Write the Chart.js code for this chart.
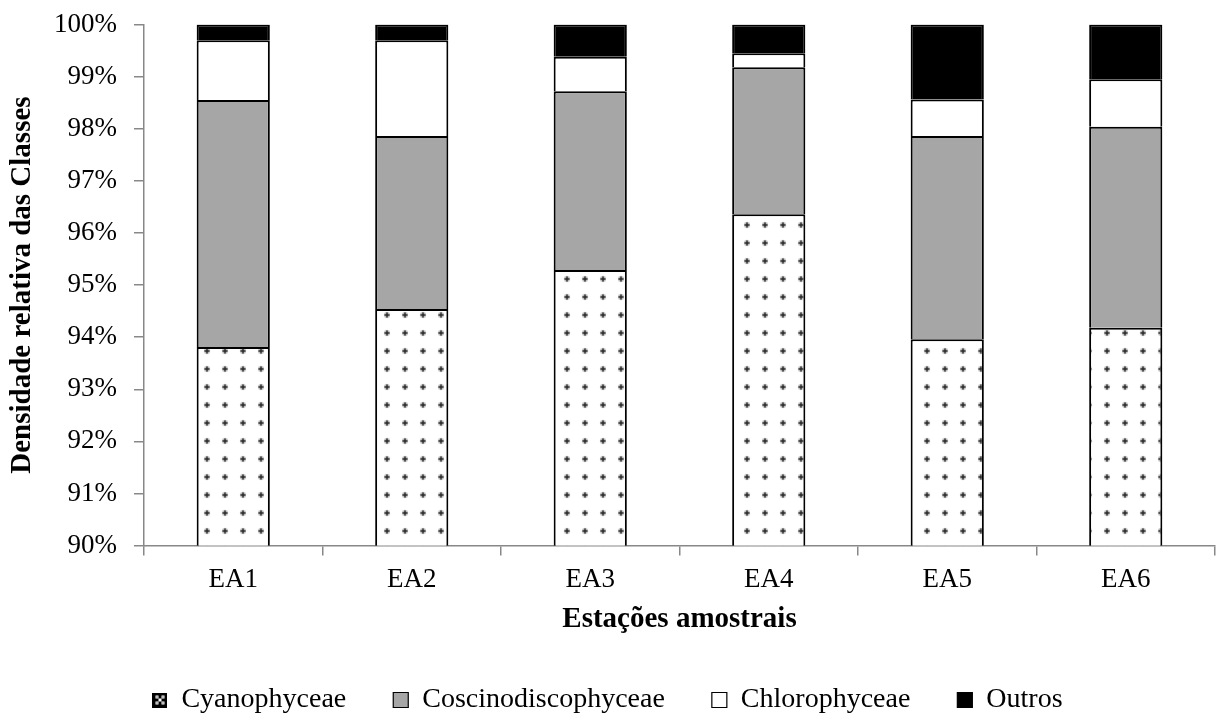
<!DOCTYPE html>
<html>
<head>
<meta charset="utf-8">
<script src="https://cdn.jsdelivr.net/npm/chart.js@4"></script>
<style>
  html, body { margin: 0; padding: 0; background: #fff; }
  #wrap { width: 1224px; height: 720px; position: relative; }
</style>
</head>
<body>
<div id="wrap"><canvas id="c"></canvas></div>
<script>
const categories = ['EA1', 'EA2', 'EA3', 'EA4', 'EA5', 'EA6'];
const cyanophyceae = [93.81, 94.54, 95.29, 96.36, 93.96, 94.18];
const coscinodiscophyceae = [4.74, 3.32, 3.43, 2.82, 3.90, 3.86];
const chlorophyceae = [1.15, 1.84, 0.66, 0.27, 0.70, 0.91];
const outros = [0.30, 0.30, 0.62, 0.55, 1.44, 1.05];
const seriesNames = ['Cyanophyceae', 'Coscinodiscophyceae', 'Chlorophyceae', 'Outros'];
const yTickMin = 90, yTickMax = 100, yTickStep = 1;

// dotted pattern for Cyanophyceae
const pc = document.createElement('canvas');
pc.width = 18; pc.height = 18;
const px = pc.getContext('2d');
px.fillStyle = '#fff'; px.fillRect(0, 0, 18, 18);
px.fillStyle = 'rgba(0,0,0,0.18)';
px.beginPath(); px.arc(9, 9, 3.2, 0, Math.PI * 2); px.fill();
px.fillStyle = 'rgba(0,0,0,0.35)';
px.fillRect(6, 8, 6, 2); px.fillRect(8, 6, 2, 6);
px.fillStyle = '#333';
px.beginPath(); px.arc(9, 9, 1.8, 0, Math.PI * 2); px.fill();
const dotPattern = px.createPattern(pc, 'repeat');

// legend swatch for Cyanophyceae (dark box with light motif)
const lc = document.createElement('canvas');
lc.width = 15; lc.height = 15;
const lx = lc.getContext('2d');
lx.fillStyle = '#000'; lx.fillRect(0, 0, 15, 15);
lx.fillStyle = '#fff';
lx.fillRect(3, 3, 3, 3); lx.fillRect(9, 3, 3, 3);
lx.fillRect(3, 9, 3, 3); lx.fillRect(9, 9, 3, 3);
lx.fillRect(6, 6, 3, 3);
lx.fillStyle = '#000';
lx.fillRect(4, 4, 1, 1); lx.fillRect(10, 4, 1, 1);
lx.fillRect(4, 10, 1, 1); lx.fillRect(10, 10, 1, 1);

const serif = '"Liberation Serif", "Times New Roman", serif';

const ds = (label, data, bg) => ({
  label, data, backgroundColor: bg, borderColor: '#000', borderWidth: 2,
  barPercentage: 0.41, categoryPercentage: 1.0, stack: 's'
});

new Chart(document.getElementById('c'), {
  type: 'bar',
  data: {
    labels: categories,
    datasets: [
      ds(seriesNames[0], cyanophyceae, dotPattern),
      ds(seriesNames[1], coscinodiscophyceae, '#a6a6a6'),
      ds(seriesNames[2], chlorophyceae, '#ffffff'),
      ds(seriesNames[3], outros, '#000000')
    ]
  },
  options: {
    responsive: true,
    maintainAspectRatio: false,
    animation: false,
    layout: { padding: { top: 24.5, right: 9, left: 0, bottom: 0 } },
    plugins: {
      tooltip: { enabled: false },
      legend: {
        position: 'bottom',
        maxHeight: 81,
        labels: {
          usePointStyle: true,
          boxWidth: 15,
          boxHeight: 15,
          padding: 47,
          color: '#000',
          font: { family: serif, size: 28 },
          generateLabels: (chart) => {
            const items = Chart.defaults.plugins.legend.labels.generateLabels(chart);
            items.forEach((it, i) => {
              it.pointStyle = i === 0 ? lc : 'rect';
              it.strokeStyle = '#000';
              it.lineWidth = 1.2;
              it.fontColor = '#000';
            });
            return items;
          }
        }
      }
    },
    scales: {
      x: {
        stacked: true,
        grid: { display: true, drawOnChartArea: false, drawTicks: true, tickLength: 10, color: '#888', lineWidth: 1.5 },
        border: { display: true, color: '#888', width: 1.5 },
        ticks: { color: '#000', padding: 8, font: { family: serif, size: 27 } },
        title: { display: true, text: 'Estações amostrais', color: '#000', padding: { top: 0, bottom: 1.6 }, font: { family: serif, size: 29, weight: 'bold' } },
        afterFit: (s) => { s.height = 93.4; }
      },
      y: {
        stacked: true,
        min: yTickMin,
        max: yTickMax,
        grid: { display: true, drawOnChartArea: false, drawTicks: true, tickLength: 10, color: '#888', lineWidth: 1.5 },
        border: { display: true, color: '#888', width: 1.5 },
        ticks: { stepSize: yTickStep, color: '#000', padding: 17, font: { family: serif, size: 27 }, callback: (v) => v + '%' },
        title: { display: true, text: 'Densidade relativa das Classes', color: '#000', padding: { top: 5.6, bottom: 0 }, font: { family: serif, size: 29, weight: 'bold' } },
        afterFit: (s) => { s.width = 144; s.paddingTop = 10; s.paddingBottom = 10; }
      }
    }
  }
});
</script>
</body>
</html>
